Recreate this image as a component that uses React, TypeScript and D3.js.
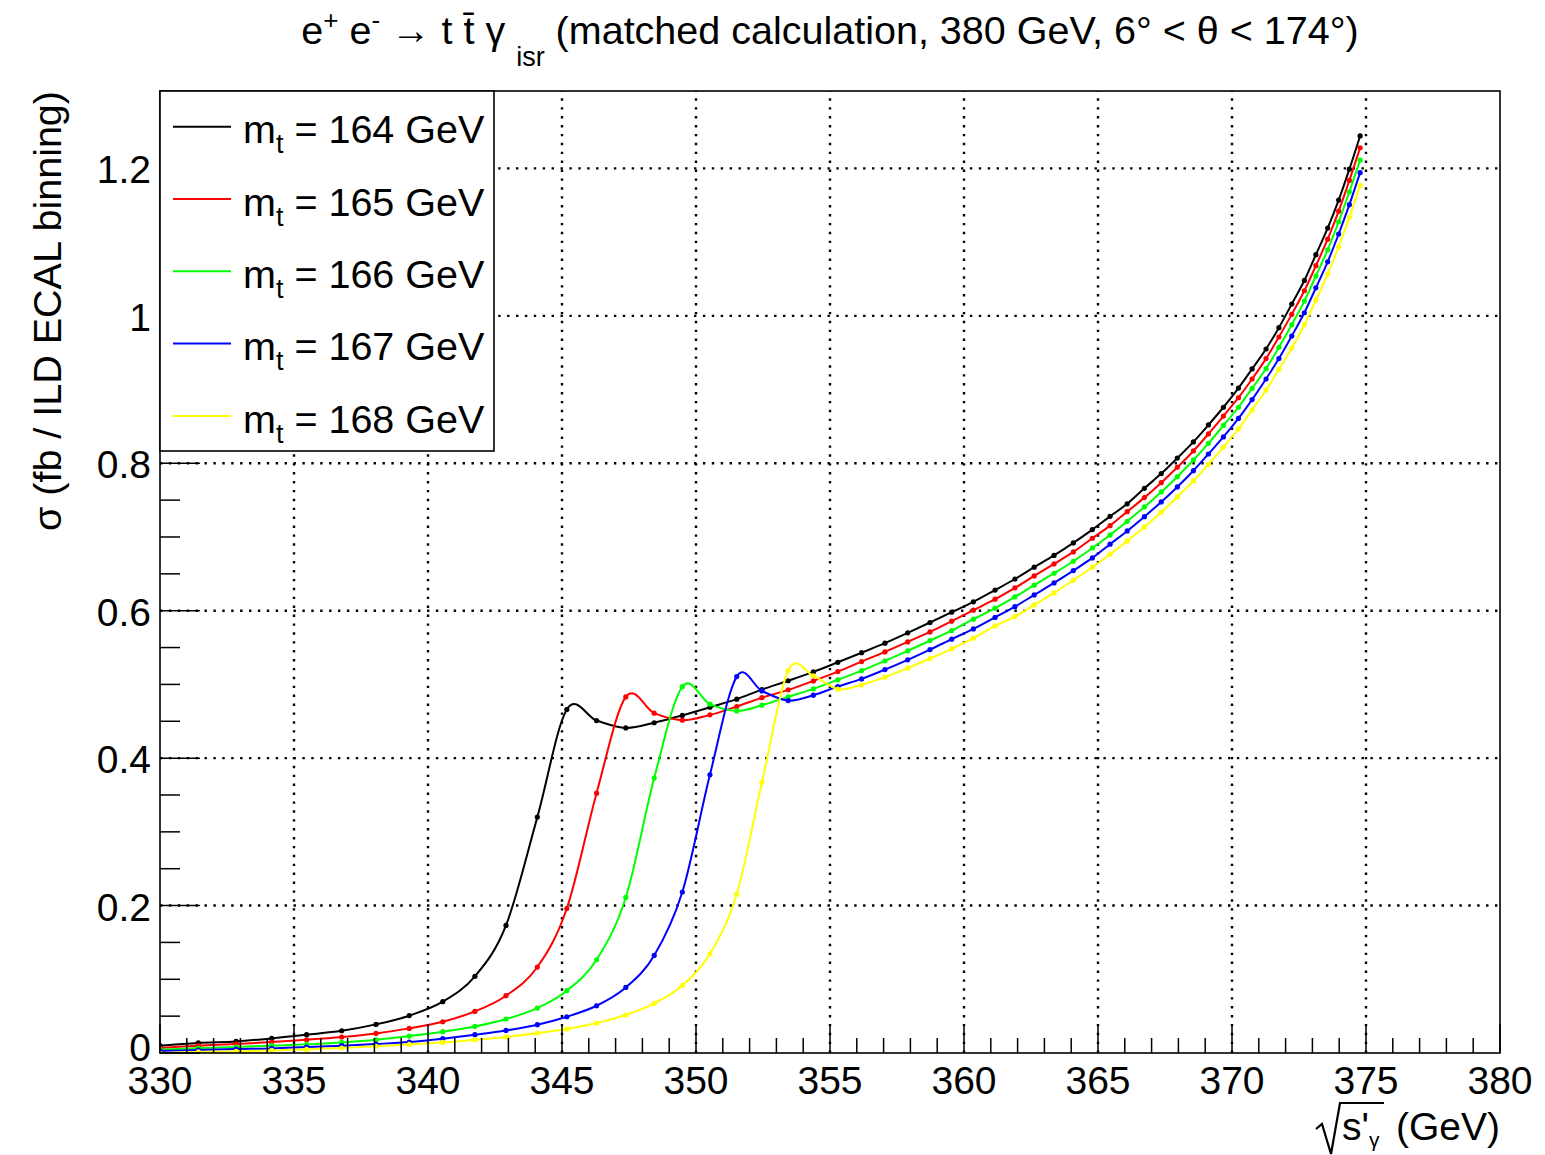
import React from 'react';
import * as d3 from 'd3';

// bin centres in sqrt(s'_gamma) (GeV), shared by all mass hypotheses
const sqrtS = [
  330.0, 331.43, 332.84, 334.17, 335.47, 336.78, 338.06, 339.3, 340.55, 341.75,
  342.91, 344.08, 345.18, 346.29, 347.38, 348.44, 349.49, 350.52, 351.52, 352.46,
  353.44, 354.38, 355.29, 356.18, 357.05, 357.9, 358.73, 359.54, 360.35, 361.16,
  361.9, 362.62, 363.36, 364.08, 364.79, 365.45, 366.09, 366.73, 367.36, 367.96,
  368.56, 369.12, 369.68, 370.24, 370.75, 371.27, 371.75, 372.23, 372.7, 373.13,
  373.57, 373.98, 374.38, 374.78,
];

// sigma (fb / ILD ECAL binning)
const mt164 = [
  0.01, 0.0136, 0.0157, 0.0198, 0.0248, 0.0302, 0.0388, 0.0506, 0.0696, 0.104,
  0.173, 0.32, 0.466, 0.451, 0.441, 0.448, 0.458, 0.469, 0.48, 0.493,
  0.505, 0.517, 0.53, 0.543, 0.556, 0.57, 0.584, 0.598, 0.612, 0.628,
  0.643, 0.659, 0.675, 0.692, 0.71, 0.728, 0.745, 0.766, 0.786, 0.807,
  0.829, 0.852, 0.876, 0.902, 0.928, 0.955, 0.984, 1.016, 1.048, 1.083,
  1.119, 1.157, 1.199, 1.244,
];
const mt165 = [
  0.0068, 0.0099, 0.0122, 0.0149, 0.018, 0.0217, 0.0266, 0.0334, 0.0424, 0.0564,
  0.0777, 0.1166, 0.196, 0.3525, 0.483, 0.461, 0.4515, 0.4587, 0.47, 0.482,
  0.4926, 0.5048, 0.5174, 0.531, 0.5441, 0.5577, 0.5712, 0.5858, 0.6007, 0.6156,
  0.631, 0.6472, 0.6635, 0.6797, 0.6983, 0.7154, 0.7344, 0.7534, 0.7737, 0.7946,
  0.8167, 0.8398, 0.864, 0.8889, 0.9143, 0.942, 0.9713, 1.002, 1.034, 1.068,
  1.104, 1.142, 1.1837, 1.228,
];
const mt166 = [
  0.0045, 0.0068, 0.0081, 0.0099, 0.0117, 0.0144, 0.018, 0.023, 0.0289, 0.036,
  0.0461, 0.061, 0.0845, 0.1265, 0.211, 0.373, 0.497, 0.4732, 0.4641, 0.4718,
  0.4831, 0.494, 0.5062, 0.5188, 0.532, 0.5455, 0.5595, 0.573, 0.5885, 0.6034,
  0.6187, 0.6346, 0.6508, 0.6671, 0.6851, 0.7028, 0.7213, 0.7408, 0.7611, 0.7818,
  0.8045, 0.8271, 0.8513, 0.876, 0.9017, 0.9283, 0.9573, 0.988, 1.02, 1.054,
  1.0896, 1.1276, 1.1683, 1.2113,
];
const mt167 = [
  0.0027, 0.004, 0.0054, 0.0062, 0.0081, 0.0099, 0.0122, 0.0149, 0.0194, 0.0248,
  0.0306, 0.0384, 0.0492, 0.0641, 0.0889, 0.1323, 0.2183, 0.3774, 0.5106, 0.4912,
  0.4781, 0.4854, 0.4971, 0.5075, 0.5201, 0.5333, 0.5472, 0.5614, 0.5753, 0.5909,
  0.6055, 0.6214, 0.6377, 0.6544, 0.6716, 0.6902, 0.7082, 0.7276, 0.7475, 0.7679,
  0.7899, 0.8126, 0.8357, 0.8608, 0.8864, 0.9143, 0.942, 0.9726, 1.0042, 1.038,
  1.0733, 1.111, 1.1508, 1.1942,
];
const mt168 = [
  0.0, 0.0014, 0.0022, 0.0035, 0.0049, 0.0068, 0.009, 0.0117, 0.0144, 0.018,
  0.0217, 0.0271, 0.0325, 0.0407, 0.0515, 0.0673, 0.0917, 0.1346, 0.2156, 0.367,
  0.5188, 0.5116, 0.4936, 0.4994, 0.5098, 0.522, 0.535, 0.5482, 0.5627, 0.5794,
  0.592, 0.6079, 0.6241, 0.6414, 0.659, 0.6766, 0.6946, 0.7136, 0.7336, 0.7543,
  0.776, 0.7986, 0.822, 0.8465, 0.8723, 0.8994, 0.9275, 0.9563, 0.988, 1.0214,
  1.0567, 1.0937, 1.1336, 1.177,
];

const masses = ['164', '165', '166', '167', '168'];
const colors = ['#000000', '#ff0000', '#00ff00', '#0000ff', '#ffff00'];
const seriesValues = [mt164, mt165, mt166, mt167, mt168];

const xTicks = [330, 335, 340, 345, 350, 355, 360, 365, 370, 375, 380];
const yTicks = [0, 0.2, 0.4, 0.6, 0.8, 1, 1.2];
const yTickLabels = ['0', '0.2', '0.4', '0.6', '0.8', '1', '1.2'];

const W = 1545;
const H = 1155;
const left = 160, right = 1500, top = 91, bottom = 1053;
const FONT = '"Liberation Sans", Arial, Helvetica, sans-serif';

export default function App() {
  const x = d3.scaleLinear().domain([330, 380]).range([left, right]);
  const y = d3.scaleLinear().domain([0, 1.305]).range([bottom, top]);

  // ROOT's smooth option overshoots a little; uniform Catmull-Rom is close
  const line = d3
    .line<number>()
    .x((_, i) => x(sqrtS[i]))
    .y((d) => y(d))
    .curve(d3.curveCatmullRom.alpha(0));

  const xMinor = d3.range(330, 381, 1);
  const yMinor = d3.range(0, 1.3, 0.05);

  const legendRows = masses.map((m, i) => 126.7 + i * 72.3);

  return (
    <svg
      width={W}
      height={H}
      style={{ position: 'absolute', left: 0, top: 0, background: '#fff' }}
      fontFamily={FONT}
    >
      <rect x={0} y={0} width={W} height={H} fill="#fff" />

      <defs>
        <clipPath id="plotArea">
          <rect x={left} y={top} width={right - left} height={bottom - top} />
        </clipPath>
      </defs>

      {/* grid */}
      <g stroke="#000" strokeWidth={2.4} strokeDasharray="2.4 6.5">
        {xTicks.slice(1, -1).map((t) => (
          <line key={'gx' + t} x1={x(t)} x2={x(t)} y1={bottom} y2={top} />
        ))}
        {yTicks.slice(1).map((t) => (
          <line key={'gy' + t} x1={left} x2={right} y1={y(t)} y2={y(t)} />
        ))}
      </g>

      {/* curves */}
      <g clipPath="url(#plotArea)">
        {seriesValues.map((vals, s) => (
          <g key={masses[s]}>
            <path d={line(vals) || ''} fill="none" stroke={colors[s]} strokeWidth={2} />
            {vals.map((v, i) => (
              <circle key={i} cx={x(sqrtS[i])} cy={y(v)} r={2.6} fill={colors[s]} />
            ))}
          </g>
        ))}
      </g>

      {/* ticks */}
      <g stroke="#000" strokeWidth={1.5}>
        {xMinor.map((t) => (
          <line
            key={'tx' + t}
            x1={x(t)}
            x2={x(t)}
            y1={bottom}
            y2={bottom - (t % 5 === 0 ? 29 : 15)}
          />
        ))}
        {yMinor.map((t, i) => (
          <line
            key={'ty' + i}
            x1={left}
            x2={left + (i % 4 === 0 ? 40 : 20)}
            y1={y(t)}
            y2={y(t)}
          />
        ))}
      </g>

      {/* frame */}
      <rect
        x={left}
        y={top}
        width={right - left}
        height={bottom - top}
        fill="none"
        stroke="#000"
        strokeWidth={1.6}
      />

      {/* tick labels */}
      <g fontSize={39} fill="#000">
        {xTicks.map((t) => (
          <text key={'lx' + t} x={x(t)} y={1094} textAnchor="middle">
            {t}
          </text>
        ))}
        {yTicks.map((t, i) => (
          <text key={'ly' + t} x={151} y={y(t) + (t === 0 ? 8 : 15)} textAnchor="end">
            {yTickLabels[i]}
          </text>
        ))}
      </g>

      {/* y axis title */}
      <text
        transform={`translate(61, ${top}) rotate(-90)`}
        textAnchor="end"
        fontSize={39.5}
        fill="#000"
      >
        σ (fb / ILD ECAL binning)
      </text>

      {/* x axis title */}
      <path
        d="M1316,1129 L1322,1124 L1331,1154 L1340,1103 L1384,1103"
        fill="none"
        stroke="#000"
        strokeWidth={2.2}
      />
      <text x={1342} y={1140} fontSize={39} fill="#000">
        s'
      </text>
      <text x={1369} y={1147} fontSize={21} fill="#000">
        γ
      </text>
      <text x={1500} y={1140} textAnchor="end" fontSize={39} fill="#000">
        (GeV)
      </text>

      {/* title */}
      <text x={830} y={44} textAnchor="middle" fontSize={39.5} fill="#000">
        <tspan>e</tspan>
        <tspan dy={-15} fontSize={26}>+</tspan>
        <tspan dy={15}>{' e'}</tspan>
        <tspan dy={-15} fontSize={26}>-</tspan>
        <tspan dy={15}>{' \u2192 t t\u0304 \u03b3 '}</tspan>
        <tspan dy={22} fontSize={27}>isr</tspan>
        <tspan dy={-22}>{' (matched calculation, 380 GeV, 6\u00b0 < \u03b8 < 174\u00b0)'}</tspan>
      </text>

      {/* legend */}
      <rect x={160} y={91} width={334} height={360} fill="#fff" stroke="#000" strokeWidth={1.6} />
      {masses.map((m, i) => (
        <g key={'leg' + m}>
          <line
            x1={173}
            x2={231}
            y1={legendRows[i]}
            y2={legendRows[i]}
            stroke={colors[i]}
            strokeWidth={2}
          />
          <text x={243} y={legendRows[i] + 16.6} fontSize={39.5} fill="#000">
            <tspan>m</tspan>
            <tspan dy={10} fontSize={27}>t</tspan>
            <tspan dy={-10}>{` = ${m} GeV`}</tspan>
          </text>
        </g>
      ))}
    </svg>
  );
}
